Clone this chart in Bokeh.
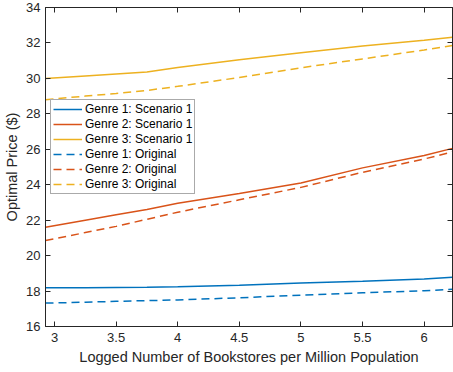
from bokeh.plotting import figure
from bokeh.models import LinearAxis, Range1d, FixedTicker
from bokeh.embed import file_html
from bokeh.resources import INLINE

x_vals = [2.927, 3.25, 3.5, 3.75, 4.0, 4.5, 5.0, 5.5, 6.0, 6.23]

g1_scen = [18.18, 18.19, 18.20, 18.21, 18.24, 18.33, 18.45, 18.56, 18.68, 18.78]
g2_scen = [21.60, 22.00, 22.30, 22.60, 22.95, 23.50, 24.10, 24.95, 25.65, 26.05]
g3_scen = [30.00, 30.14, 30.25, 30.36, 30.62, 31.05, 31.45, 31.83, 32.15, 32.32]
g1_orig = [17.32, 17.37, 17.42, 17.46, 17.50, 17.62, 17.77, 17.90, 18.02, 18.10]
g2_orig = [20.85, 21.30, 21.65, 22.05, 22.45, 23.15, 23.85, 24.70, 25.45, 25.85]
g3_orig = [28.80, 29.00, 29.15, 29.32, 29.55, 30.05, 30.60, 31.10, 31.60, 31.85]

x_ticks = [3, 3.5, 4, 4.5, 5, 5.5, 6]
y_ticks = [16, 18, 20, 22, 24, 26, 28, 30, 32, 34]

series = [
    ("Genre 1: Scenario 1", g1_scen, "#0072BD", "solid"),
    ("Genre 2: Scenario 1", g2_scen, "#D95319", "solid"),
    ("Genre 3: Scenario 1", g3_scen, "#EDB120", "solid"),
    ("Genre 1: Original", g1_orig, "#0072BD", "8 5"),
    ("Genre 2: Original", g2_orig, "#D95319", "8 5"),
    ("Genre 3: Original", g3_orig, "#EDB120", "8 5"),
]

FONT = "Liberation Sans"
AX = "#262626"

p = figure(width=453, height=372, output_backend="svg", toolbar_location=None,
           x_range=Range1d(2.927, 6.23), y_range=Range1d(16, 34),
           min_border_left=45, min_border_right=1, min_border_top=7, min_border_bottom=46)
p.xgrid.visible = False
p.ygrid.visible = False
p.outline_line_color = AX
p.outline_line_alpha = 0.8

for label, ys, color, dash in series:
    p.line(x_vals, ys, line_color=color, line_width=1.5, line_dash=dash, legend_label=label)

for ax, ticks in ((p.xaxis[0], x_ticks), (p.yaxis[0], y_ticks)):
    ax.ticker = FixedTicker(ticks=ticks)
    ax.minor_tick_line_color = None
    ax.major_tick_in = 5
    ax.major_tick_out = 0
    ax.axis_line_color = AX
    ax.major_tick_line_color = AX
    ax.major_label_text_color = AX
    ax.major_label_text_font = FONT
    ax.major_label_text_font_size = "13px"
    ax.axis_label_text_font = FONT
    ax.axis_label_text_font_size = "14.5px"
    ax.axis_label_text_font_style = "normal"
    ax.axis_label_text_color = AX

p.xaxis[0].axis_label = "Logged Number of Bookstores per Million Population"
p.yaxis[0].axis_label = "Optimal Price ($)"
p.xaxis[0].major_label_standoff = 6
p.xaxis[0].axis_label_standoff = 4
p.yaxis[0].major_label_standoff = 5
p.yaxis[0].axis_label_standoff = 3

for loc, ticks in (("above", x_ticks), ("right", y_ticks)):
    a = LinearAxis(ticker=FixedTicker(ticks=ticks), major_label_text_font_size="0px",
                   major_label_text_color=None,
                   major_label_standoff=0, major_tick_in=5, major_tick_out=0,
                   minor_tick_line_color=None, axis_line_color=AX,
                   major_tick_line_color=AX)
    p.add_layout(a, loc)

lg = p.legend[0]
lg.location = (5, 132)
lg.label_text_font = FONT
lg.label_text_font_size = "12px"
lg.label_text_color = "#000000"
lg.border_line_color = "#555555"
lg.border_line_width = 1
lg.background_fill_color = "white"
lg.background_fill_alpha = 1
lg.padding = 2
lg.spacing = 1
lg.margin = 0
lg.label_height = 14
lg.glyph_height = 14
lg.glyph_width = 29
lg.label_standoff = 3

open("out.html", "w").write(file_html(p, INLINE))
